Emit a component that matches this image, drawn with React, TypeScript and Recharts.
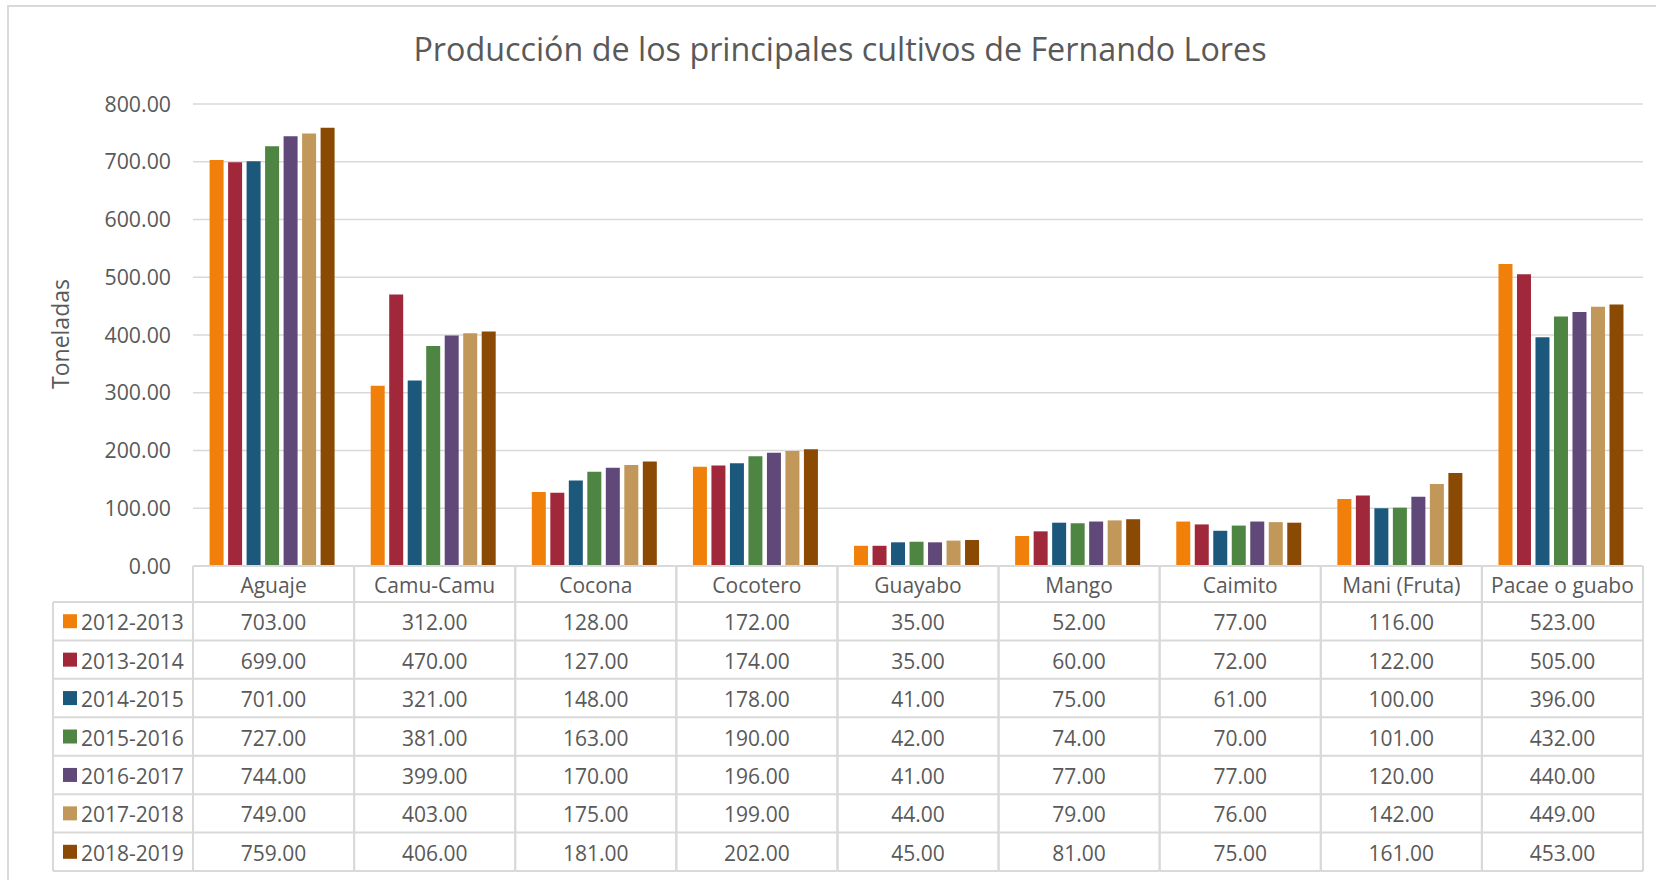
import { Bar, BarChart, CartesianGrid, XAxis, YAxis } from 'recharts';

const categories = [
    'Aguaje',
    'Camu-Camu',
    'Cocona',
    'Cocotero',
    'Guayabo',
    'Mango',
    'Caimito',
    'Mani (Fruta)',
    'Pacae o guabo',
];

const seasons = ['2012-2013', '2013-2014', '2014-2015', '2015-2016', '2016-2017', '2017-2018', '2018-2019'];
const colors = ['#F0800A', '#A0283A', '#1B587C', '#4E8542', '#604878', '#C19859', '#8B4A04'];

const v2012 = [703, 312, 128, 172, 35, 52, 77, 116, 523];
const v2013 = [699, 470, 127, 174, 35, 60, 72, 122, 505];
const v2014 = [701, 321, 148, 178, 41, 75, 61, 100, 396];
const v2015 = [727, 381, 163, 190, 42, 74, 70, 101, 432];
const v2016 = [744, 399, 170, 196, 41, 77, 77, 120, 440];
const v2017 = [749, 403, 175, 199, 44, 79, 76, 142, 449];
const v2018 = [759, 406, 181, 202, 45, 81, 75, 161, 453];

const seriesValues = [v2012, v2013, v2014, v2015, v2016, v2017, v2018];
const yTicks = [0, 100, 200, 300, 400, 500, 600, 700, 800];

const data = categories.map((name, i) => {
    const row: Record<string, string | number> = { name };
    seasons.forEach((s, k) => {
        row[s] = seriesValues[k][i];
    });
    return row;
});

const W = 1656;
const H = 880;
const PLOT_LEFT = 193;
const PLOT_RIGHT = 1643;
const BAND = (PLOT_RIGHT - PLOT_LEFT) / categories.length;
const TABLE_LEFT = 53;
const HEADER_H = 36;
const ROW_H = 38.43;
const GRID = '#d9d9d9';
const TEXT = '#595959';
const FONT = '"Open Sans", sans-serif';
const FS = 21;

function TableTick(props: any) {
    const { x, y, index, payload } = props;
    const left = x - BAND / 2;
    const right = x + BAND / 2;
    const bottom = y + HEADER_H + ROW_H * seasons.length;
    const rowY = (r: number) => y + HEADER_H + ROW_H * r;
    return (
        <g>
            <line x1={left} x2={left} y1={y} y2={bottom} stroke={GRID} strokeWidth={2} />
            <line x1={right} x2={right} y1={y} y2={bottom} stroke={GRID} strokeWidth={2} />
            <line x1={left} x2={right} y1={y} y2={y} stroke={GRID} strokeWidth={2} />
            {seasons.map((s, r) => (
                <line key={s} x1={left} x2={right} y1={rowY(r)} y2={rowY(r)} stroke={GRID} strokeWidth={2} />
            ))}
            <line x1={left} x2={right} y1={bottom} y2={bottom} stroke={GRID} strokeWidth={2} />
            <text x={x} y={y + HEADER_H / 2 + 1} textAnchor="middle" dominantBaseline="central" fill={TEXT} fontSize={FS} fontFamily={FONT}>
                {payload.value}
            </text>
            {seriesValues.map((vals, r) => (
                <text key={r} x={x} y={rowY(r) + ROW_H / 2 + 1} textAnchor="middle" dominantBaseline="central" fill={TEXT} fontSize={FS} fontFamily={FONT}>
                    {vals[index].toFixed(2)}
                </text>
            ))}
            {index === 0 && (
                <g>
                    <line x1={TABLE_LEFT} x2={TABLE_LEFT} y1={rowY(0)} y2={bottom} stroke={GRID} strokeWidth={2} />
                    {seasons.map((s, r) => (
                        <g key={s}>
                            <line x1={TABLE_LEFT} x2={left} y1={rowY(r)} y2={rowY(r)} stroke={GRID} strokeWidth={2} />
                            <rect x={63} y={rowY(r) + ROW_H / 2 - 7} width={14} height={14} fill={colors[r]} />
                            <text x={81} y={rowY(r) + ROW_H / 2 + 1} dominantBaseline="central" fill={TEXT} fontSize={FS} fontFamily={FONT}>
                                {s}
                            </text>
                        </g>
                    ))}
                    <line x1={TABLE_LEFT} x2={left} y1={bottom} y2={bottom} stroke={GRID} strokeWidth={2} />
                </g>
            )}
        </g>
    );
}

export default function App() {
    return (
        <div style={{ position: 'absolute', left: 0, top: 0, width: W, height: H, background: '#fff', overflow: 'hidden' }}>
            <div style={{ position: 'absolute', left: 7, top: 5, width: W, height: H, borderTop: `2px solid ${GRID}`, borderLeft: `2px solid ${GRID}` }} />
            <div
                style={{
                    position: 'absolute',
                    left: 0,
                    width: 1680,
                    top: 26,
                    textAlign: 'center',
                    fontFamily: FONT,
                    fontSize: 32.3,
                    color: TEXT,
                    whiteSpace: 'nowrap',
                }}
            >
                Producción de los principales cultivos de Fernando Lores
            </div>
            <div
                style={{
                    position: 'absolute',
                    left: 60,
                    top: 334,
                    transform: 'translate(-50%, -50%) rotate(-90deg)',
                    fontFamily: FONT,
                    fontSize: 23,
                    color: TEXT,
                    whiteSpace: 'nowrap',
                }}
            >
                Toneladas
            </div>
            <div style={{ position: 'absolute', left: 0, top: 0 }}>
                <BarChart
                    width={W}
                    height={H}
                    data={data}
                    margin={{ top: 104, right: W - PLOT_RIGHT, bottom: 9, left: 8 }}
                    barCategoryGap="10.3%"
                    barGap={4.5}
                >
                    <CartesianGrid vertical={false} stroke={GRID} strokeWidth={1.5} />
                    <XAxis
                        dataKey="name"
                        height={305}
                        axisLine={false}
                        tickLine={false}
                        tickSize={0}
                        tickMargin={0}
                        interval={0}
                        tick={<TableTick />}
                    />
                    <YAxis
                        width={PLOT_LEFT - 8}
                        domain={[0, 800]}
                        ticks={yTicks}
                        tickFormatter={(v: number) => v.toFixed(2)}
                        axisLine={false}
                        tickLine={false}
                        tickSize={0}
                        tickMargin={22}
                        tick={{ fill: TEXT, fontSize: 21.3, fontFamily: FONT }}
                    />
                    {seasons.map((s, k) => (
                        <Bar key={s} dataKey={s} fill={colors[k]} isAnimationActive={false} />
                    ))}
                </BarChart>
            </div>
        </div>
    );
}
